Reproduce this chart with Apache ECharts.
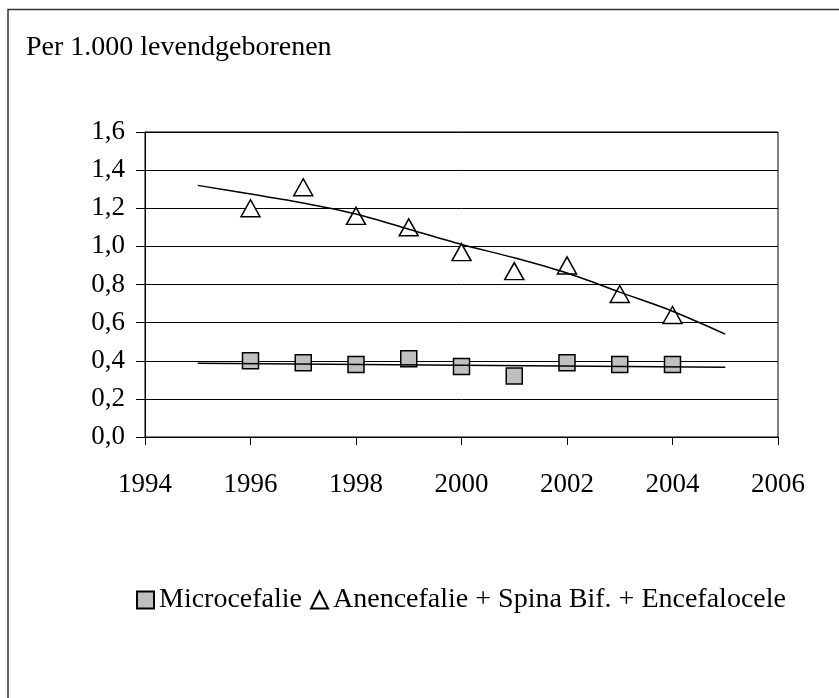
<!DOCTYPE html>
<html>
<head>
<meta charset="utf-8">
<script src="https://cdn.jsdelivr.net/npm/echarts@6/dist/echarts.min.js"></script>
<style>
  html, body { margin: 0; padding: 0; background: #fff; }
  #chart { width: 839px; height: 698px; }
</style>
</head>
<body>
<div id="chart"></div>
<script>
  // data
  const years = [1996, 1997, 1998, 1999, 2000, 2001, 2002, 2003, 2004];
  const microcefalie = [0.40, 0.39, 0.38, 0.41, 0.37, 0.32, 0.39, 0.38, 0.38];
  const anencefalie = [1.20, 1.31, 1.16, 1.10, 0.97, 0.87, 0.90, 0.75, 0.64];

  // trend lines
  const trendYears = [1995, 1996, 1997, 1998, 1999, 2000, 2001, 2002, 2003, 2004, 2005];
  const anencefalieTrend = [1.32, 1.275, 1.228, 1.17, 1.09, 1.01, 0.94, 0.86, 0.76, 0.66, 0.54];
  const microTrendYears = [1995, 2005];
  const microTrend = [0.387, 0.366];

  const yTicks = ['0,0', '0,2', '0,4', '0,6', '0,8', '1,0', '1,2', '1,4', '1,6'];
  const xTicks = ['1994', '1996', '1998', '2000', '2002', '2004', '2006'];

  const FONT = '"Liberation Serif", "Times New Roman", serif';

  const pairs = (xs, ys) => xs.map((x, i) => [x, ys[i]]);

  const chart = echarts.init(document.getElementById('chart'));

  const option = {
    animation: false,
    backgroundColor: '#fff',
    title: {
      text: 'Per 1.000 levendgeborenen',
      left: 21,
      top: 29,
      textStyle: {
        fontFamily: FONT,
        fontSize: 28,
        fontWeight: 'normal',
        color: '#000'
      }
    },
    legend: {
      data: ['Microcefalie', 'Anencefalie + Spina Bif. + Encefalocele'],
      left: 131,
      top: 581,
      itemWidth: 17,
      itemHeight: 17,
      itemGap: 8,
      textStyle: {
        fontFamily: FONT,
        fontSize: 28,
        color: '#000'
      }
    },
    grid: {
      left: 145,
      right: 61,
      top: 132,
      bottom: 261,
      show: true,
      borderColor: '#000',
      borderWidth: 1
    },
    xAxis: {
      type: 'value',
      min: 1994,
      max: 2006,
      interval: 2,
      axisLine: { lineStyle: { color: '#000', width: 1 } },
      axisTick: { show: true, length: 8, lineStyle: { color: '#000' } },
      splitLine: { show: false },
      axisLabel: {
        margin: 34,
        fontFamily: FONT,
        fontSize: 27,
        color: '#000',
        formatter: (v) => xTicks[Math.round((v - 1994) / 2)]
      }
    },
    yAxis: {
      type: 'value',
      min: 0,
      max: 1.6,
      interval: 0.2,
      axisLine: { show: true, lineStyle: { color: '#000', width: 1 } },
      axisTick: { show: true, length: 9, lineStyle: { color: '#000' } },
      splitLine: { show: true, lineStyle: { color: '#000', width: 1 } },
      axisLabel: {
        margin: 20,
        padding: [8, 0, 0, 0],
        fontFamily: FONT,
        fontSize: 27,
        color: '#000',
        formatter: (v) => yTicks[Math.round(v / 0.2)]
      }
    },
    series: [
      {
        name: 'Microcefalie',
        type: 'scatter',
        symbol: 'rect',
        symbolSize: 16,
        z: 2,
        itemStyle: { color: '#c0c0c0', borderColor: '#000', borderWidth: 1.5, opacity: 1 },
        data: pairs(years, microcefalie)
      },
      {
        name: 'Anencefalie + Spina Bif. + Encefalocele',
        type: 'scatter',
        symbol: 'triangle',
        symbolSize: [19, 17],
        z: 2,
        itemStyle: { color: '#fff', borderColor: '#000', borderWidth: 1.5, opacity: 1 },
        data: pairs(years, anencefalie)
      },
      {
        name: 'trend micro',
        type: 'line',
        showSymbol: false,
        silent: true,
        z: 3,
        lineStyle: { color: '#000', width: 1.5 },
        data: pairs(microTrendYears, microTrend)
      },
      {
        name: 'trend anen',
        type: 'line',
        showSymbol: false,
        silent: true,
        smooth: 0.3,
        z: 3,
        lineStyle: { color: '#000', width: 1.5 },
        data: pairs(trendYears, anencefalieTrend)
      }
    ],
    graphic: [
      {
        type: 'polyline',
        shape: { points: [[8, 698], [8, 9.5], [839, 9.5]] },
        style: { stroke: '#333', lineWidth: 1.5, fill: null }
      }
    ]
  };

  chart.setOption(option);
</script>
</body>
</html>
